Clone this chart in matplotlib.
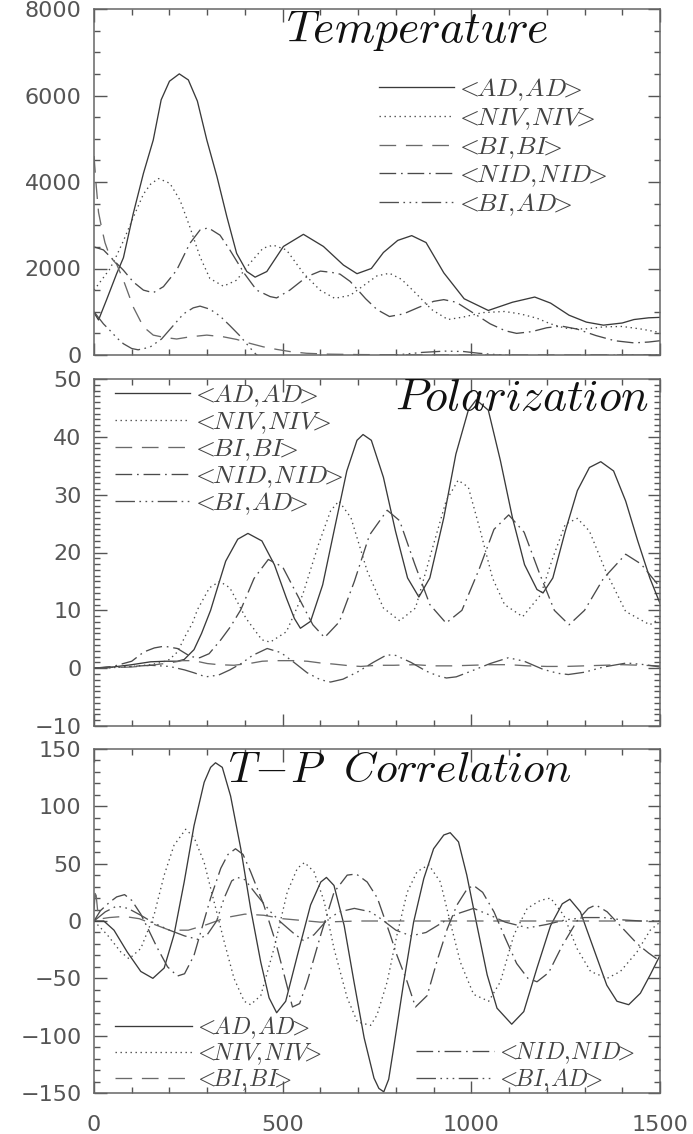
import numpy as np
import matplotlib
matplotlib.use('Agg')
import matplotlib.pyplot as plt
from matplotlib.ticker import MultipleLocator

plt.rcParams['mathtext.fontset'] = 'cm'
plt.rcParams['lines.scale_dashes'] = False
plt.rcParams['font.family'] = ['DejaVu Sans']

# ---------------- data ----------------
labels = [r'$<\!\!AD,\!AD\!\!>$', r'$<\!\!NIV,\!NIV\!\!>$', r'$<\!\!BI,\!BI\!\!>$',
          r'$<\!\!NID,\!NID\!\!>$', r'$<\!\!BI,\!AD\!\!>$']
titles = [r'$Temperature$', r'$Polarization$', r'$T\!-\!P\ \ Correlation$']

# Temperature panel
t_ad_x = [0, 12, 33, 60, 78, 104, 131, 157, 178, 200, 226, 250, 274, 299, 326, 352, 378, 405, 427, 458, 502, 555,
          608, 661, 697, 735, 767, 805, 842, 880, 927, 981, 1045, 1109, 1168, 1210, 1259, 1305, 1350, 1400, 1431, 1470, 1500]
t_ad_y = [980, 810, 1270, 1880, 2250, 3270, 4200, 4970, 5900, 6330, 6500, 6360, 5870, 4970, 4120, 3200, 2350, 1930, 1800,
          1930, 2510, 2790, 2510, 2080, 1880, 2000, 2370, 2650, 2760, 2600, 1900, 1300, 1030, 1220, 1340, 1200, 920, 760,
          690, 740, 820, 860, 870]
t_niv_x = [0, 25, 42, 60, 78, 104, 131, 150, 171, 201, 228, 254, 281, 307, 343, 378, 413, 448, 475, 510, 555, 599, 638,
           679, 720, 750, 783, 815, 852, 895, 938, 980, 1030, 1088, 1130, 1174, 1210, 1249, 1300, 1350, 1400, 1450, 1500]
t_niv_y = [1500, 1790, 1990, 2300, 2640, 3180, 3720, 3950, 4080, 3970, 3580, 2960, 2270, 1770, 1590, 1730, 2120, 2470,
           2540, 2430, 1890, 1500, 1310, 1380, 1640, 1830, 1890, 1750, 1435, 1050, 820, 880, 980, 1006, 950, 850, 720,
           620, 600, 650, 660, 600, 520]
t_bi_x = [0, 6, 12, 20, 29, 42, 60, 78, 104, 131, 157, 184, 219, 254, 299, 343, 378, 413, 448, 484, 519, 563, 620, 700,
          800, 1000, 1200, 1500]
t_bi_y = [4600, 3900, 3300, 2950, 2600, 2280, 2100, 1730, 1110, 650, 460, 410, 370, 420, 460, 420, 360, 270, 190, 130,
          80, 40, 20, 10, 5, 0, 0, 0]
t_nid_x = [0, 25, 51, 78, 104, 131, 157, 184, 219, 254, 281, 303, 334, 360, 398, 431, 467, 484, 519, 564, 600, 630, 652,
           679, 720, 750, 783, 820, 860, 900, 927, 960, 1000, 1050, 1090, 1120, 1160, 1200, 1238, 1280, 1330, 1380, 1431,
           1470, 1500]
t_nid_y = [2500, 2430, 2200, 1960, 1690, 1500, 1440, 1580, 1960, 2580, 2890, 2940, 2770, 2430, 1890, 1500, 1350, 1320,
           1500, 1810, 1940, 1910, 1870, 1700, 1300, 1050, 890, 950, 1100, 1240, 1280, 1220, 1000, 720, 560, 500, 540,
           630, 670, 600, 450, 330, 280, 300, 330]
t_biad_x = [0, 25, 42, 60, 78, 100, 117, 148, 179, 210, 237, 263, 281, 307, 334, 360, 387, 413, 431, 460, 520, 600, 700,
            800, 870, 930, 980, 1020, 1080, 1150, 1300, 1500]
t_biad_y = [1000, 720, 570, 400, 260, 150, 120, 180, 370, 680, 950, 1090, 1130, 1060, 900, 680, 440, 170, 0, -120, -200,
            -150, -60, 0, 60, 90, 80, 40, 0, -30, -10, 0]

# Polarization panel
p_ad_x = [0, 50, 100, 150, 190, 221, 239, 265, 285, 309, 330, 349, 381, 408, 445, 478, 510, 531, 547, 574, 606, 638, 670,
          697, 713, 735, 767, 799, 831, 861, 890, 927, 959, 992, 1013, 1045, 1077, 1109, 1141, 1174, 1190, 1216, 1249,
          1281, 1313, 1343, 1377, 1409, 1441, 1473, 1500]
p_ad_y = [0, 0.2, 0.6, 1.1, 1.2, 1.2, 1.5, 3.2, 6.0, 10.0, 14.5, 18.5, 22.3, 23.3, 22.0, 17.9, 12.1, 8.6, 6.9, 8.1, 14.4,
          24.3, 34.1, 39.4, 40.4, 39.4, 33.0, 23.7, 15.6, 12.3, 15.6, 26.0, 37.0, 44.6, 46.4, 44.6, 35.9, 26.0, 17.9,
          13.6, 13.0, 15.6, 23.7, 30.7, 34.7, 35.7, 34.1, 28.9, 22.0, 15.6, 11.2]
p_niv_x = [0, 50, 100, 150, 180, 200, 221, 243, 261, 274, 306, 333, 360, 403, 445, 467, 510, 553, 595, 627, 649, 681,
           724, 767, 810, 852, 895, 933, 965, 992, 1024, 1056, 1088, 1136, 1184, 1216, 1249, 1281, 1313, 1356, 1409,
           1473, 1500]
p_niv_y = [0, 0.1, 0.3, 0.6, 1.0, 1.5, 2.8, 5.7, 7.8, 10.1, 13.9, 15.0, 13.9, 8.6, 4.9, 4.5, 6.3, 12.7, 21.4, 27.2,
           28.9, 26.0, 16.8, 10.4, 8.2, 10.4, 20.3, 28.9, 32.5, 31.3, 23.7, 15.6, 11.0, 8.9, 12.7, 19.1, 24.9, 25.9,
           23.7, 16.8, 9.8, 7.5, 8.6]
p_bi_x = [0, 100, 150, 200, 234, 265, 300, 331, 371, 420, 446, 481, 530, 565, 600, 636, 680, 707, 751, 795, 850, 900,
          950, 1000, 1050, 1100, 1150, 1200, 1250, 1300, 1350, 1400, 1450, 1500]
p_bi_y = [0, 0.2, 0.5, 0.9, 1.3, 1.3, 0.8, 0.6, 0.5, 0.9, 1.2, 1.3, 1.3, 1.2, 0.9, 0.7, 0.4, 0.3, 0.5, 0.5, 0.6, 0.4,
          0.4, 0.5, 0.6, 0.6, 0.4, 0.3, 0.3, 0.4, 0.5, 0.6, 0.5, 0.4]
p_nid_x = [0, 50, 100, 132, 160, 186, 221, 256, 280, 305, 336, 362, 389, 424, 462, 500, 540, 580, 611, 650, 690, 730,
           777, 810, 850, 890, 933, 975, 1020, 1060, 1099, 1140, 1180, 1220, 1259, 1300, 1350, 1409, 1450, 1500]
p_nid_y = [0, 0.3, 1.2, 2.8, 3.5, 3.8, 3.4, 2.0, 1.8, 2.5, 4.9, 7.2, 10.1, 15.5, 18.8, 17.5, 12.5, 7.5, 5.3, 8.0, 15.0,
           23.0, 27.3, 25.5, 18.0, 11.0, 7.8, 10.0, 17.0, 24.0, 26.5, 23.5, 16.5, 10.0, 7.5, 10.0, 15.5, 19.7, 18.0, 14.0]
p_biad_x = [0, 100, 150, 200, 240, 265, 296, 330, 360, 390, 420, 459, 495, 530, 565, 600, 627, 660, 700, 740, 776, 800,
            840, 880, 910, 934, 960, 1000, 1050, 1098, 1140, 1190, 1230, 1257, 1300, 1350, 1412, 1460, 1500]
p_biad_y = [0, 0.3, 0.5, 0.3, -0.3, -0.8, -1.5, -1.2, -0.3, 0.8, 2.2, 3.4, 2.7, 1.0, -0.8, -2.0, -2.4, -1.9, -0.6, 1.0,
            2.3, 2.2, 1.0, -0.5, -1.3, -1.7, -1.5, -0.5, 0.8, 1.8, 1.2, -0.2, -0.9, -1.1, -0.7, 0.2, 0.9, 0.6, 0.2]

# T-P correlation panel
x_ad_x = [0, 26, 53, 88, 124, 156, 186, 212, 239, 265, 292, 309, 322, 340, 362, 389, 415, 442, 464, 484, 508, 539, 574,
          601, 616, 636, 663, 689, 716, 742, 755, 768, 781, 794, 821, 847, 874, 900, 927, 944, 966, 988, 1015, 1042,
          1068, 1107, 1139, 1174, 1210, 1241, 1261, 1289, 1324, 1359, 1386, 1417, 1448, 1474, 1500]
x_ad_y = [0, 0, -8, -27, -44, -50, -41, -12, 34, 83, 121, 134, 138, 134, 109, 63, 11, -36, -67, -80, -70, -30, 14, 34,
          38, 31, -4, -53, -102, -137, -146, -149, -138, -111, -53, -1, 37, 63, 75, 77, 69, 40, -4, -47, -76, -90, -79,
          -41, -4, 15, 19, 8, -24, -56, -70, -73, -63, -47, -30]
x_niv_x = [0, 35, 71, 93, 124, 159, 186, 212, 243, 265, 292, 318, 345, 371, 398, 415, 442, 477, 512, 539, 558, 583, 610,
           636, 671, 698, 733, 750, 777, 803, 830, 856, 887, 918, 944, 971, 1006, 1046, 1077, 1113, 1148, 1183, 1210,
           1245, 1280, 1316, 1360, 1395, 1439, 1474, 1500]
x_niv_y = [0, -12, -27, -33, -24, 5, 40, 66, 80, 73, 51, 17, -18, -50, -70, -73, -65, -24, 25, 46, 51, 43, 17, -24, -67,
           -88, -91, -82, -53, -12, 25, 43, 49, 34, -1, -36, -64, -70, -53, -12, 11, 18, 20, 5, -24, -44, -50, -44, -27,
           -8, -1]
x_bi_x = [0, 4, 10, 20, 40, 80, 120, 160, 200, 250, 300, 350, 400, 450, 500, 600, 700, 800, 1000, 1200, 1500]
x_bi_y = [10, 28, 8, 2, 3, 4, 2, -3, -8, -8, -3, 3, 6, 5, 2, -1, 0, 0, 0, 0, 0]
x_nid_x = [0, 17, 40, 60, 81, 100, 124, 145, 167, 195, 221, 240, 265, 287, 309, 336, 355, 375, 395, 415, 450, 481, 504,
           526, 545, 565, 601, 636, 671, 695, 724, 751, 785, 803, 830, 852, 883, 909, 936, 962, 989, 1006, 1030, 1060,
           1090, 1120, 1150, 1174, 1205, 1240, 1280, 1310, 1330, 1360, 1400, 1440, 1470, 1500]
x_nid_y = [0, 9, 16, 21, 23, 18, 6, -8, -23, -40, -48, -46, -30, -5, 20, 46, 58, 63, 58, 43, 14, -18, -47, -75, -72,
           -53, -12, 25, 40, 41, 34, 20, -12, -30, -53, -75, -65, -35, -7, 14, 28, 31, 25, 8, -15, -37, -50, -53, -45,
           -22, 0, 11, 14, 8, -6, -20, -28, -35]
x_biad_x = [0, 30, 60, 90, 124, 160, 200, 240, 275, 300, 325, 345, 365, 380, 400, 433, 468, 495, 530, 555, 583, 618,
            650, 690, 733, 760, 800, 840, 880, 920, 960, 1006, 1050, 1090, 1150, 1200, 1250, 1300, 1350, 1400, 1450, 1500]
x_biad_y = [0, 8, 13, 11, 5, -2, -8, -13, -16, -12, 0, 20, 35, 38, 36, 22, 8, -1, -11, -17, -12, 1, 8, 11, 8, 2, -8,
            -13, -10, -2, 6, 11, 5, -1, -6, -3, 1, 3, 3, 1, 0, 0]

panels = [
    [(t_ad_x, t_ad_y), (t_niv_x, t_niv_y), (t_bi_x, t_bi_y), (t_nid_x, t_nid_y), (t_biad_x, t_biad_y)],
    [(p_ad_x, p_ad_y), (p_niv_x, p_niv_y), (p_bi_x, p_bi_y), (p_nid_x, p_nid_y), (p_biad_x, p_biad_y)],
    [(x_ad_x, x_ad_y), (x_niv_x, x_niv_y), (x_bi_x, x_bi_y), (x_nid_x, x_nid_y), (x_biad_x, x_biad_y)],
]
ylims = [(0, 8000), (-10, 50), (-150, 150)]
ymajor = [2000, 10, 50]
yminor = [500, 1, 10]

# ---------------- styles ----------------
styles = [
    dict(color='#3a3a3a', linestyle='-'),
    dict(color='#4a4a4a', linestyle=(0, (1.0, 2.6))),
    dict(color='#6a6a6a', linestyle=(0, (12, 7))),
    dict(color='#4a4a4a', linestyle=(0, (12, 3.5, 1.2, 3.5))),
    dict(color='#505050', linestyle=(0, (14, 3.2, 1.2, 3.2, 1.2, 3.2, 1.2, 3.2))),
]
LW = 0.95
GRAY = '#555555'

fig = plt.figure(figsize=(6.93, 11.34), dpi=100)
W = 566 / 693
L = 94 / 693
rects = [
    (L, 1 - 355 / 1134, W, 346 / 1134),
    (L, 1 - 726 / 1134, W, 347 / 1134),
    (L, 1 - 1093 / 1134, W, 344 / 1134),
]
axes = [fig.add_axes(r) for r in rects]

handles = []
for i, ax in enumerate(axes):
    lines = []
    for (xs, ys), st, lab in zip(panels[i], styles, labels):
        ln, = ax.plot(xs, ys, lw=LW, label=lab, **st)
        lines.append(ln)
    handles.append(lines)
    ax.set_xlim(0, 1500)
    ax.set_ylim(*ylims[i])
    ax.xaxis.set_major_locator(MultipleLocator(500))
    ax.xaxis.set_minor_locator(MultipleLocator(100))
    ax.yaxis.set_major_locator(MultipleLocator(ymajor[i]))
    ax.yaxis.set_minor_locator(MultipleLocator(yminor[i]))
    ax.tick_params(which='both', direction='in', top=True, right=True, color='#555555', width=1.0)
    ax.tick_params(which='major', length=9)
    ax.tick_params(which='minor', length=4.5)
    ax.tick_params(axis='y', labelsize=16, labelcolor=GRAY, pad=9)
    ax.tick_params(axis='x', labelsize=16, labelcolor=GRAY, pad=16)
    for sp in ax.spines.values():
        sp.set_color('#666666')
        sp.set_linewidth(1.1)
    if i < 2:
        ax.set_xticklabels([])

# titles
ax0, ax1, ax2 = axes
TFS = 33
ax0.text(0.339, 0.905, titles[0], transform=ax0.transAxes, fontsize=TFS, ha='left', va='baseline', color='#111111')
ax1.text(0.532, 0.911, titles[1], transform=ax1.transAxes, fontsize=TFS, ha='left', va='baseline', color='#111111',
         clip_on=False)
ax2.text(0.237, 0.904, titles[2], transform=ax2.transAxes, fontsize=31.5, ha='left', va='baseline', color='#111111')


def leg_kw(fs, hl):
    return dict(frameon=False, fontsize=fs, handlelength=hl, handletextpad=0.05, borderpad=0, borderaxespad=0,
                labelcolor='#444444')


ax0.legend(handles=handles[0], loc='upper left', bbox_to_anchor=(0.5035, 0.805), labelspacing=0.07,
           **leg_kw(18.5, 2.92))
ax1.legend(handles=handles[1], loc='upper left', bbox_to_anchor=(0.037, 0.99), labelspacing=0.0,
           **leg_kw(18.5, 2.92))
lg1 = ax2.legend(handles=handles[2][:3], loc='lower left', bbox_to_anchor=(0.037, 0.0), labelspacing=0.0,
                 **leg_kw(17, 3.25))
ax2.add_artist(lg1)
ax2.legend(handles=handles[2][3:], loc='lower left', bbox_to_anchor=(0.569, 0.0), labelspacing=0.0,
           **leg_kw(17, 3.3))

fig.savefig('out.png', dpi=100)
